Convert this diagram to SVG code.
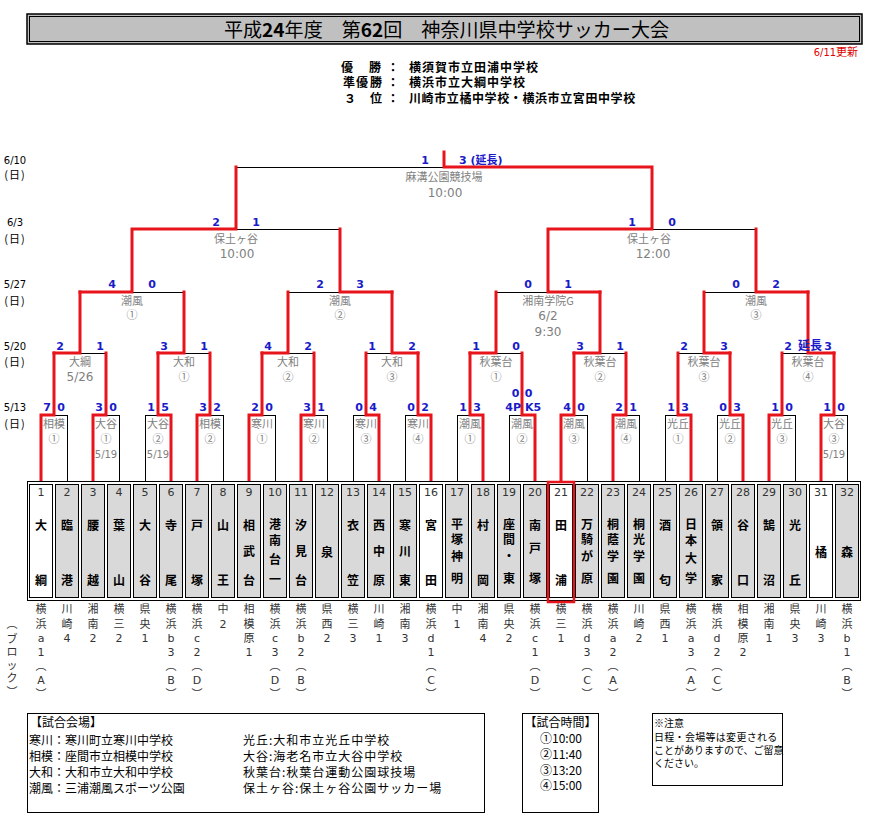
<svg xmlns="http://www.w3.org/2000/svg" width="879" height="819" viewBox="0 0 879 819">
<style>
.w{fill:none;stroke:#e8141c;stroke-width:3;stroke-linecap:square;stroke-linejoin:miter}
.l{fill:none;stroke:#000;stroke-width:1}
.sc{font-family:"DejaVu Sans","Noto Sans CJK JP",sans-serif;font-size:11px;font-weight:bold;fill:#1a1ac8;text-anchor:middle}
.sce{text-anchor:end}
.scs{text-anchor:start}
.vn{font-family:"Noto Sans CJK JP",sans-serif;font-size:11px;fill:#808080;text-anchor:middle}
.vd{font-family:"DejaVu Sans",sans-serif;font-size:12px;fill:#808080;text-anchor:middle}
.vs{font-family:"DejaVu Sans",sans-serif;font-size:10px;fill:#808080;text-anchor:middle}
.dt{font-family:"DejaVu Sans",sans-serif;font-size:10px;fill:#000;text-anchor:middle}
.dd{font-family:"Noto Sans CJK JP",sans-serif;font-size:11px;fill:#000;text-anchor:middle;letter-spacing:1px}
.cell{stroke:#000;stroke-width:1;fill:#d9d9d9}
.cw{fill:#fff}
.num{font-family:"DejaVu Sans",sans-serif;font-size:11px;fill:#333;text-anchor:middle}
.nm{font-family:"Noto Sans CJK JP",sans-serif;font-size:12px;font-weight:bold;fill:#000;text-anchor:middle}
.blk{font-family:"DejaVu Sans","Noto Sans CJK JP",sans-serif;font-size:11px;fill:#333;text-anchor:middle}
.lg{font-family:"Noto Sans CJK JP",sans-serif;font-size:12px;fill:#000}
.lr{font-family:"Noto Sans CJK JP",sans-serif;font-size:12px;fill:#000;letter-spacing:1px}
.nt{font-family:"Noto Sans CJK JP",sans-serif;font-size:10px;fill:#000}
.wn{font-family:"Noto Sans CJK JP",sans-serif;font-size:12px;font-weight:bold;fill:#000}
.box{fill:none;stroke:#000;stroke-width:1}
</style>
<rect width="879" height="819" fill="#fff"/>

<g id="title">
<rect x="27" y="14" width="835" height="30" fill="#c0c0c0" stroke="#000" stroke-width="1.5"/>
<rect x="29.5" y="16.5" width="830" height="25" fill="none" stroke="#000" stroke-width="1"/>
<text x="224" y="37" font-family="Noto Sans CJK JP,sans-serif" font-size="19" fill="#000" textLength="445" lengthAdjust="spacingAndGlyphs">平成<tspan font-weight="bold">24</tspan>年度　第<tspan font-weight="bold">62</tspan>回　神奈川県中学校サッカー大会</text>
<text x="858" y="56" font-family="DejaVu Sans Condensed,Noto Sans CJK JP,sans-serif" font-size="11" fill="#e00000" text-anchor="end">6/11更新</text>
</g>

<g id="winners">
<text class="wn" x="341" y="72">優</text><text class="wn" x="369" y="72">勝</text><text class="wn" x="387" y="72">：</text>
<text class="wn" x="409" y="72" letter-spacing="1">横須賀市立田浦中学校</text>
<text class="wn" x="343" y="87">準</text><text class="wn" x="356" y="87">優</text><text class="wn" x="370" y="87">勝</text><text class="wn" x="387" y="87">：</text>
<text class="wn" x="409" y="87" letter-spacing="1">横浜市立大綱中学校</text>
<text class="wn" x="344" y="103">３</text><text class="wn" x="370" y="103">位</text><text class="wn" x="387" y="103">：</text>
<text class="wn" x="409" y="103" letter-spacing="0.6">川崎市立橘中学校・横浜市立宮田中学校</text>
</g>

<g id="dates">
<text class="dt" x="15" y="164">6/10</text><text class="dd" x="15" y="179">(日)</text>
<text class="dt" x="15" y="226">6/3</text><text class="dd" x="15" y="243">(日)</text>
<text class="dt" x="15" y="288">5/27</text><text class="dd" x="15" y="305">(日)</text>
<text class="dt" x="15" y="350">5/20</text><text class="dd" x="15" y="366">(日)</text>
<text class="dt" x="15" y="411">5/13</text><text class="dd" x="15" y="428">(日)</text>
</g>

<g id="connectors">
<path class="l" shape-rendering="crispEdges" d="M67 482V415H54M119 482V415H106M145 482V415H158M223 482V415H210M275 482V415H262M327 482V415H314M353 482V415H366M405 482V415H418M457 482V415H470M509 482V415H522M587 482V415H574M639 482V415H626M665 482V415H678M717 482V415H730M795 482V415H782M847 482V415H834"/>
<path class="l" shape-rendering="crispEdges" d="M106 353H80M210 353H184M314 353H288M366 353H392M522 353H496M626 353H600M678 353H704M782 353H808M184 292H132M288 292H340M496 292H548M704 292H756M340 229H236M756 229H652M236 167H444"/>
<path class="w" d="M41 482V415H54V353M93 482V415H106V353M171 482V415H158V353M197 482V415H210V353M249 482V415H262V353M301 482V415H314V353M379 482V415H366V353M431 482V415H418V353M483 482V415H470V353M535 482V415H522V353M561 482V415H574V353M613 482V415H626V353M691 482V415H678V353M743 482V415H730V353M769 482V415H782V353M821 482V415H834V353"/>
<path class="w" d="M54 353H80V292M158 353H184V292M262 353H288V292M418 353H392V292M470 353H496V292M574 353H600V292M730 353H704V292M834 353H808V292"/>
<path class="w" d="M80 292H132V229M392 292H340V229M600 292H548V229M808 292H756V229M132 229H236V167M548 229H652V167M652 167H444V152"/>
</g>

<g id="scores">
<text class="sc" x="47" y="411">7</text><text class="sc" x="61" y="411">0</text>
<text class="sc" x="99" y="411">3</text><text class="sc" x="113" y="411">0</text>
<text class="sc" x="151" y="411">1</text><text class="sc" x="165" y="411">5</text>
<text class="sc" x="203" y="411">3</text><text class="sc" x="217" y="411">2</text>
<text class="sc" x="255" y="411">2</text><text class="sc" x="269" y="411">0</text>
<text class="sc" x="307" y="411">3</text><text class="sc" x="321" y="411">1</text>
<text class="sc" x="359" y="411">0</text><text class="sc" x="373" y="411">4</text>
<text class="sc" x="411" y="411">0</text><text class="sc" x="425" y="411">2</text>
<text class="sc" x="463" y="411">1</text><text class="sc" x="477" y="411">3</text>
<text class="sc" x="515.5" y="397">0</text><text class="sc" x="528.5" y="397">0</text>
<text class="sc sce" x="521" y="411">4P</text><text class="sc scs" x="525" y="411">K5</text>
<text class="sc" x="567" y="411">4</text><text class="sc" x="581" y="411">0</text>
<text class="sc" x="619" y="411">2</text><text class="sc" x="633" y="411">1</text>
<text class="sc" x="671" y="411">1</text><text class="sc" x="685" y="411">3</text>
<text class="sc" x="723" y="411">0</text><text class="sc" x="737" y="411">3</text>
<text class="sc" x="775" y="411">1</text><text class="sc" x="789" y="411">0</text>
<text class="sc" x="827" y="411">1</text><text class="sc" x="841" y="411">0</text>
<text class="sc" x="60" y="350">2</text><text class="sc" x="100" y="350">1</text>
<text class="sc" x="164" y="350">3</text><text class="sc" x="204" y="350">1</text>
<text class="sc" x="268" y="350">4</text><text class="sc" x="308" y="350">2</text>
<text class="sc" x="372" y="350">1</text><text class="sc" x="412" y="350">2</text>
<text class="sc" x="476" y="350">1</text><text class="sc" x="516" y="350">0</text>
<text class="sc" x="580" y="350">3</text><text class="sc" x="620" y="350">1</text>
<text class="sc" x="684" y="350">2</text><text class="sc" x="724" y="350">3</text>
<text class="sc" x="788" y="350">2</text><text class="sc" x="828" y="350">3</text><text class="sc" x="810" y="350" style="font-size:12px">延長</text>
<text class="sc" x="112" y="288">4</text><text class="sc" x="152" y="288">0</text>
<text class="sc" x="320" y="288">2</text><text class="sc" x="360" y="288">3</text>
<text class="sc" x="528" y="288">0</text><text class="sc" x="568" y="288">1</text>
<text class="sc" x="736" y="288">0</text><text class="sc" x="776" y="288">2</text>
<text class="sc" x="216" y="226">2</text><text class="sc" x="256" y="226">1</text>
<text class="sc" x="632" y="226">1</text><text class="sc" x="672" y="226">0</text>
<text class="sc" x="425" y="164">1</text><text class="sc scs" x="459" y="164">3 (延長)</text>
</g>

<g id="venues">
<text class="vn" x="54" y="428">相模</text><text class="vn" x="54" y="443">①</text>
<text class="vn" x="106" y="428">大谷</text><text class="vn" x="106" y="443">①</text><text class="vs" x="106" y="458">5/19</text>
<text class="vn" x="158" y="428">大谷</text><text class="vn" x="158" y="443">②</text><text class="vs" x="158" y="458">5/19</text>
<text class="vn" x="210" y="428">相模</text><text class="vn" x="210" y="443">②</text>
<text class="vn" x="262" y="428">寒川</text><text class="vn" x="262" y="443">①</text>
<text class="vn" x="314" y="428">寒川</text><text class="vn" x="314" y="443">②</text>
<text class="vn" x="366" y="428">寒川</text><text class="vn" x="366" y="443">③</text>
<text class="vn" x="418" y="428">寒川</text><text class="vn" x="418" y="443">④</text>
<text class="vn" x="470" y="428">潮風</text><text class="vn" x="470" y="443">①</text>
<text class="vn" x="522" y="428">潮風</text><text class="vn" x="522" y="443">②</text>
<text class="vn" x="574" y="428">潮風</text><text class="vn" x="574" y="443">③</text>
<text class="vn" x="626" y="428">潮風</text><text class="vn" x="626" y="443">④</text>
<text class="vn" x="678" y="428">光丘</text><text class="vn" x="678" y="443">①</text>
<text class="vn" x="730" y="428">光丘</text><text class="vn" x="730" y="443">②</text>
<text class="vn" x="782" y="428">光丘</text><text class="vn" x="782" y="443">③</text>
<text class="vn" x="834" y="428">大谷</text><text class="vn" x="834" y="443">③</text><text class="vs" x="834" y="458">5/19</text>
<text class="vn" x="80" y="366">大綱</text><text class="vd" x="80" y="381">5/26</text>
<text class="vn" x="184" y="366">大和</text><text class="vn" x="184" y="381">①</text>
<text class="vn" x="288" y="366">大和</text><text class="vn" x="288" y="381">②</text>
<text class="vn" x="392" y="366">大和</text><text class="vn" x="392" y="381">③</text>
<text class="vn" x="496" y="366">秋葉台</text><text class="vn" x="496" y="381">①</text>
<text class="vn" x="600" y="366">秋葉台</text><text class="vn" x="600" y="381">②</text>
<text class="vn" x="704" y="366">秋葉台</text><text class="vn" x="704" y="381">③</text>
<text class="vn" x="808" y="366">秋葉台</text><text class="vn" x="808" y="381">④</text>
<text class="vn" x="132" y="305">潮風</text><text class="vn" x="132" y="319">①</text>
<text class="vn" x="340" y="305">潮風</text><text class="vn" x="340" y="319">②</text>
<text class="vn" x="548" y="305">湘南学院G</text><text class="vd" x="548" y="320">6/2</text><text class="vd" x="548" y="336">9:30</text>
<text class="vn" x="756" y="305">潮風</text><text class="vn" x="756" y="319">③</text>
<text class="vn" x="236" y="243">保土ヶ谷</text><text class="vd" x="237" y="258">10:00</text>
<text class="vn" x="649" y="243">保土ヶ谷</text><text class="vd" x="653" y="258">12:00</text>
<text class="vn" x="444" y="181">麻溝公園競技場</text><text class="vd" x="445" y="197">10:00</text>
</g>

<g id="teams">
<rect x="27.5" y="481.5" width="833" height="119" fill="#fff" stroke="#000" stroke-width="1"/>
<g id="team-1"><rect class="cell cw" x="29.5" y="484.5" width="23" height="113"/><text class="num" x="41" y="496">1</text><text class="nm"><tspan x="41" y="529.5">大</tspan><tspan x="41" y="584.5">綱</tspan></text></g>
<g id="team-2"><rect class="cell" x="55.5" y="484.5" width="23" height="113"/><text class="num" x="67" y="496">2</text><text class="nm"><tspan x="67" y="529.5">臨</tspan><tspan x="67" y="584.5">港</tspan></text></g>
<g id="team-3"><rect class="cell" x="81.5" y="484.5" width="23" height="113"/><text class="num" x="93" y="496">3</text><text class="nm"><tspan x="93" y="529.5">腰</tspan><tspan x="93" y="584.5">越</tspan></text></g>
<g id="team-4"><rect class="cell" x="107.5" y="484.5" width="23" height="113"/><text class="num" x="119" y="496">4</text><text class="nm"><tspan x="119" y="529.5">葉</tspan><tspan x="119" y="584.5">山</tspan></text></g>
<g id="team-5"><rect class="cell" x="133.5" y="484.5" width="23" height="113"/><text class="num" x="145" y="496">5</text><text class="nm"><tspan x="145" y="529.5">大</tspan><tspan x="145" y="584.5">谷</tspan></text></g>
<g id="team-6"><rect class="cell" x="159.5" y="484.5" width="23" height="113"/><text class="num" x="171" y="496">6</text><text class="nm"><tspan x="171" y="529.5">寺</tspan><tspan x="171" y="584.5">尾</tspan></text></g>
<g id="team-7"><rect class="cell" x="185.5" y="484.5" width="23" height="113"/><text class="num" x="197" y="496">7</text><text class="nm"><tspan x="197" y="529.5">戸</tspan><tspan x="197" y="584.5">塚</tspan></text></g>
<g id="team-8"><rect class="cell" x="211.5" y="484.5" width="23" height="113"/><text class="num" x="223" y="496">8</text><text class="nm"><tspan x="223" y="529.5">山</tspan><tspan x="223" y="584.5">王</tspan></text></g>
<g id="team-9"><rect class="cell" x="237.5" y="484.5" width="23" height="113"/><text class="num" x="249" y="496">9</text><text class="nm"><tspan x="249" y="529.5">相</tspan><tspan x="249" y="556">武</tspan><tspan x="249" y="584.5">台</tspan></text></g>
<g id="team-10"><rect class="cell" x="263.5" y="484.5" width="23" height="113"/><text class="num" x="275" y="496">10</text><text class="nm"><tspan x="275" y="529">港</tspan><tspan x="275" y="545">南</tspan><tspan x="275" y="564">台</tspan><tspan x="275" y="584">一</tspan></text></g>
<g id="team-11"><rect class="cell" x="289.5" y="484.5" width="23" height="113"/><text class="num" x="301" y="496">11</text><text class="nm"><tspan x="301" y="529.5">汐</tspan><tspan x="301" y="556">見</tspan><tspan x="301" y="584.5">台</tspan></text></g>
<g id="team-12"><rect class="cell" x="315.5" y="484.5" width="23" height="113"/><text class="num" x="327" y="496">12</text><text class="nm"><tspan x="327" y="556.5">泉</tspan></text></g>
<g id="team-13"><rect class="cell" x="341.5" y="484.5" width="23" height="113"/><text class="num" x="353" y="496">13</text><text class="nm"><tspan x="353" y="529.5">衣</tspan><tspan x="353" y="584.5">笠</tspan></text></g>
<g id="team-14"><rect class="cell" x="367.5" y="484.5" width="23" height="113"/><text class="num" x="379" y="496">14</text><text class="nm"><tspan x="379" y="529.5">西</tspan><tspan x="379" y="556">中</tspan><tspan x="379" y="584.5">原</tspan></text></g>
<g id="team-15"><rect class="cell" x="393.5" y="484.5" width="23" height="113"/><text class="num" x="405" y="496">15</text><text class="nm"><tspan x="405" y="529.5">寒</tspan><tspan x="405" y="556">川</tspan><tspan x="405" y="584.5">東</tspan></text></g>
<g id="team-16"><rect class="cell cw" x="419.5" y="484.5" width="23" height="113"/><text class="num" x="431" y="496">16</text><text class="nm"><tspan x="431" y="529.5">宮</tspan><tspan x="431" y="584.5">田</tspan></text></g>
<g id="team-17"><rect class="cell" x="445.5" y="484.5" width="23" height="113"/><text class="num" x="457" y="496">17</text><text class="nm"><tspan x="457" y="529">平</tspan><tspan x="457" y="544">塚</tspan><tspan x="457" y="561">神</tspan><tspan x="457" y="583">明</tspan></text></g>
<g id="team-18"><rect class="cell" x="471.5" y="484.5" width="23" height="113"/><text class="num" x="483" y="496">18</text><text class="nm"><tspan x="483" y="529.5">村</tspan><tspan x="483" y="584.5">岡</tspan></text></g>
<g id="team-19"><rect class="cell" x="497.5" y="484.5" width="23" height="113"/><text class="num" x="509" y="496">19</text><text class="nm"><tspan x="509" y="529">座</tspan><tspan x="509" y="544">間</tspan><tspan x="509" y="561">・</tspan><tspan x="509" y="583">東</tspan></text></g>
<g id="team-20"><rect class="cell" x="523.5" y="484.5" width="23" height="113"/><text class="num" x="535" y="496">20</text><text class="nm"><tspan x="535" y="529.5">南</tspan><tspan x="535" y="553">戸</tspan><tspan x="535" y="583">塚</tspan></text></g>
<g id="team-21"><rect class="cell cw" x="549.5" y="484.5" width="23" height="113"/><rect x="548" y="482" width="26" height="120" fill="none" stroke="#e8141c" stroke-width="2.5"/><text class="num" x="561" y="496">21</text><text class="nm"><tspan x="561" y="529.5">田</tspan><tspan x="561" y="584.5">浦</tspan></text></g>
<g id="team-22"><rect class="cell" x="575.5" y="484.5" width="23" height="113"/><text class="num" x="587" y="496">22</text><text class="nm"><tspan x="587" y="529">万</tspan><tspan x="587" y="544">騎</tspan><tspan x="587" y="561">が</tspan><tspan x="587" y="583">原</tspan></text></g>
<g id="team-23"><rect class="cell" x="601.5" y="484.5" width="23" height="113"/><text class="num" x="613" y="496">23</text><text class="nm"><tspan x="613" y="529">桐</tspan><tspan x="613" y="544">蔭</tspan><tspan x="613" y="561">学</tspan><tspan x="613" y="583">園</tspan></text></g>
<g id="team-24"><rect class="cell" x="627.5" y="484.5" width="23" height="113"/><text class="num" x="639" y="496">24</text><text class="nm"><tspan x="639" y="529">桐</tspan><tspan x="639" y="544">光</tspan><tspan x="639" y="561">学</tspan><tspan x="639" y="583">園</tspan></text></g>
<g id="team-25"><rect class="cell" x="653.5" y="484.5" width="23" height="113"/><text class="num" x="665" y="496">25</text><text class="nm"><tspan x="665" y="529.5">酒</tspan><tspan x="665" y="584.5">匂</tspan></text></g>
<g id="team-26"><rect class="cell" x="679.5" y="484.5" width="23" height="113"/><text class="num" x="691" y="496">26</text><text class="nm"><tspan x="691" y="529">日</tspan><tspan x="691" y="545">本</tspan><tspan x="691" y="562.5">大</tspan><tspan x="691" y="583">学</tspan></text></g>
<g id="team-27"><rect class="cell" x="705.5" y="484.5" width="23" height="113"/><text class="num" x="717" y="496">27</text><text class="nm"><tspan x="717" y="529.5">領</tspan><tspan x="717" y="584.5">家</tspan></text></g>
<g id="team-28"><rect class="cell" x="731.5" y="484.5" width="23" height="113"/><text class="num" x="743" y="496">28</text><text class="nm"><tspan x="743" y="529.5">谷</tspan><tspan x="743" y="584.5">口</tspan></text></g>
<g id="team-29"><rect class="cell" x="757.5" y="484.5" width="23" height="113"/><text class="num" x="769" y="496">29</text><text class="nm"><tspan x="769" y="529.5">鵠</tspan><tspan x="769" y="584.5">沼</tspan></text></g>
<g id="team-30"><rect class="cell" x="783.5" y="484.5" width="23" height="113"/><text class="num" x="795" y="496">30</text><text class="nm"><tspan x="795" y="529.5">光</tspan><tspan x="795" y="584.5">丘</tspan></text></g>
<g id="team-31"><rect class="cell cw" x="809.5" y="484.5" width="23" height="113"/><text class="num" x="821" y="496">31</text><text class="nm"><tspan x="821" y="556.5">橘</tspan></text></g>
<g id="team-32"><rect class="cell" x="835.5" y="484.5" width="23" height="113"/><text class="num" x="847" y="496">32</text><text class="nm"><tspan x="847" y="556.5">森</tspan></text></g>
</g>

<g id="blocks">
<text class="blk"><tspan x="12" y="628">︵</tspan><tspan x="12" y="643">ブ</tspan><tspan x="12" y="656">ロ</tspan><tspan x="12" y="669">ッ</tspan><tspan x="12" y="682">ク</tspan><tspan x="12" y="696">︶</tspan></text>
<text class="blk"><tspan x="41" y="613">横</tspan><tspan x="41" y="628">浜</tspan><tspan x="41" y="642">a</tspan><tspan x="41" y="656">1</tspan><tspan x="41" y="670">︵</tspan><tspan x="41" y="684">A</tspan><tspan x="41" y="698">︶</tspan></text>
<text class="blk"><tspan x="67" y="613">川</tspan><tspan x="67" y="628">崎</tspan><tspan x="67" y="642">4</tspan></text>
<text class="blk"><tspan x="93" y="613">湘</tspan><tspan x="93" y="628">南</tspan><tspan x="93" y="642">2</tspan></text>
<text class="blk"><tspan x="119" y="613">横</tspan><tspan x="119" y="628">三</tspan><tspan x="119" y="642">2</tspan></text>
<text class="blk"><tspan x="145" y="613">県</tspan><tspan x="145" y="628">央</tspan><tspan x="145" y="642">1</tspan></text>
<text class="blk"><tspan x="171" y="613">横</tspan><tspan x="171" y="628">浜</tspan><tspan x="171" y="642">b</tspan><tspan x="171" y="656">3</tspan><tspan x="171" y="670">︵</tspan><tspan x="171" y="684">B</tspan><tspan x="171" y="698">︶</tspan></text>
<text class="blk"><tspan x="197" y="613">横</tspan><tspan x="197" y="628">浜</tspan><tspan x="197" y="642">c</tspan><tspan x="197" y="656">2</tspan><tspan x="197" y="670">︵</tspan><tspan x="197" y="684">D</tspan><tspan x="197" y="698">︶</tspan></text>
<text class="blk"><tspan x="223" y="613">中</tspan><tspan x="223" y="628">2</tspan></text>
<text class="blk"><tspan x="249" y="613">相</tspan><tspan x="249" y="628">模</tspan><tspan x="249" y="642">原</tspan><tspan x="249" y="656">1</tspan></text>
<text class="blk"><tspan x="275" y="613">横</tspan><tspan x="275" y="628">浜</tspan><tspan x="275" y="642">c</tspan><tspan x="275" y="656">3</tspan><tspan x="275" y="670">︵</tspan><tspan x="275" y="684">D</tspan><tspan x="275" y="698">︶</tspan></text>
<text class="blk"><tspan x="301" y="613">横</tspan><tspan x="301" y="628">浜</tspan><tspan x="301" y="642">b</tspan><tspan x="301" y="656">2</tspan><tspan x="301" y="670">︵</tspan><tspan x="301" y="684">B</tspan><tspan x="301" y="698">︶</tspan></text>
<text class="blk"><tspan x="327" y="613">県</tspan><tspan x="327" y="628">西</tspan><tspan x="327" y="642">2</tspan></text>
<text class="blk"><tspan x="353" y="613">横</tspan><tspan x="353" y="628">三</tspan><tspan x="353" y="642">3</tspan></text>
<text class="blk"><tspan x="379" y="613">川</tspan><tspan x="379" y="628">崎</tspan><tspan x="379" y="642">1</tspan></text>
<text class="blk"><tspan x="405" y="613">湘</tspan><tspan x="405" y="628">南</tspan><tspan x="405" y="642">3</tspan></text>
<text class="blk"><tspan x="431" y="613">横</tspan><tspan x="431" y="628">浜</tspan><tspan x="431" y="642">d</tspan><tspan x="431" y="656">1</tspan><tspan x="431" y="670">︵</tspan><tspan x="431" y="684">C</tspan><tspan x="431" y="698">︶</tspan></text>
<text class="blk"><tspan x="457" y="613">中</tspan><tspan x="457" y="628">1</tspan></text>
<text class="blk"><tspan x="483" y="613">湘</tspan><tspan x="483" y="628">南</tspan><tspan x="483" y="642">4</tspan></text>
<text class="blk"><tspan x="509" y="613">県</tspan><tspan x="509" y="628">央</tspan><tspan x="509" y="642">2</tspan></text>
<text class="blk"><tspan x="535" y="613">横</tspan><tspan x="535" y="628">浜</tspan><tspan x="535" y="642">c</tspan><tspan x="535" y="656">1</tspan><tspan x="535" y="670">︵</tspan><tspan x="535" y="684">D</tspan><tspan x="535" y="698">︶</tspan></text>
<text class="blk"><tspan x="561" y="613">横</tspan><tspan x="561" y="628">三</tspan><tspan x="561" y="642">1</tspan></text>
<text class="blk"><tspan x="587" y="613">横</tspan><tspan x="587" y="628">浜</tspan><tspan x="587" y="642">d</tspan><tspan x="587" y="656">3</tspan><tspan x="587" y="670">︵</tspan><tspan x="587" y="684">C</tspan><tspan x="587" y="698">︶</tspan></text>
<text class="blk"><tspan x="613" y="613">横</tspan><tspan x="613" y="628">浜</tspan><tspan x="613" y="642">a</tspan><tspan x="613" y="656">2</tspan><tspan x="613" y="670">︵</tspan><tspan x="613" y="684">A</tspan><tspan x="613" y="698">︶</tspan></text>
<text class="blk"><tspan x="639" y="613">川</tspan><tspan x="639" y="628">崎</tspan><tspan x="639" y="642">2</tspan></text>
<text class="blk"><tspan x="665" y="613">県</tspan><tspan x="665" y="628">西</tspan><tspan x="665" y="642">1</tspan></text>
<text class="blk"><tspan x="691" y="613">横</tspan><tspan x="691" y="628">浜</tspan><tspan x="691" y="642">a</tspan><tspan x="691" y="656">3</tspan><tspan x="691" y="670">︵</tspan><tspan x="691" y="684">A</tspan><tspan x="691" y="698">︶</tspan></text>
<text class="blk"><tspan x="717" y="613">横</tspan><tspan x="717" y="628">浜</tspan><tspan x="717" y="642">d</tspan><tspan x="717" y="656">2</tspan><tspan x="717" y="670">︵</tspan><tspan x="717" y="684">C</tspan><tspan x="717" y="698">︶</tspan></text>
<text class="blk"><tspan x="743" y="613">相</tspan><tspan x="743" y="628">模</tspan><tspan x="743" y="642">原</tspan><tspan x="743" y="656">2</tspan></text>
<text class="blk"><tspan x="769" y="613">湘</tspan><tspan x="769" y="628">南</tspan><tspan x="769" y="642">1</tspan></text>
<text class="blk"><tspan x="795" y="613">県</tspan><tspan x="795" y="628">央</tspan><tspan x="795" y="642">3</tspan></text>
<text class="blk"><tspan x="821" y="613">川</tspan><tspan x="821" y="628">崎</tspan><tspan x="821" y="642">3</tspan></text>
<text class="blk"><tspan x="847" y="613">横</tspan><tspan x="847" y="628">浜</tspan><tspan x="847" y="642">b</tspan><tspan x="847" y="656">1</tspan><tspan x="847" y="670">︵</tspan><tspan x="847" y="684">B</tspan><tspan x="847" y="698">︶</tspan></text>
</g>

<g id="legend-venues">
<rect class="box" x="27.5" y="713.5" width="457" height="99"/>
<text class="lg" x="30" y="727">【試合会場】</text>
<text class="lg" x="29" y="745">寒川：寒川町立寒川中学校</text>
<text class="lg" x="29" y="761">相模：座間市立相模中学校</text>
<text class="lg" x="29" y="777">大和：大和市立大和中学校</text>
<text class="lg" x="29" y="793">潮風：三浦潮風スポーツ公園</text>
<text class="lr" x="243" y="745">光丘:大和市立光丘中学校</text>
<text class="lr" x="243" y="761">大谷:海老名市立大谷中学校</text>
<text class="lr" x="243" y="777">秋葉台:秋葉台運動公園球技場</text>
<text class="lr" x="243" y="793">保土ヶ谷:保土ヶ谷公園サッカー場</text>
</g>

<g id="legend-times">
<rect class="box" x="522.5" y="713.5" width="76" height="99"/>
<text class="lg" x="560.5" y="727" text-anchor="middle">【試合時間】</text>
<text class="lg" x="540" y="743">①10:00</text>
<text class="lg" x="540" y="759">②11:40</text>
<text class="lg" x="540" y="775">③13:20</text>
<text class="lg" x="540" y="790">④15:00</text>
</g>

<g id="legend-note">
<rect class="box" x="652.5" y="713.5" width="130" height="72"/>
<text class="nt" x="654" y="727">※注意</text>
<text class="nt" x="654" y="741" letter-spacing="0.3">日程・会場等は変更される</text>
<text class="nt" x="654" y="754">ことがありますので、ご留意</text>
<text class="nt" x="654" y="767">ください。</text>
</g>
</svg>
